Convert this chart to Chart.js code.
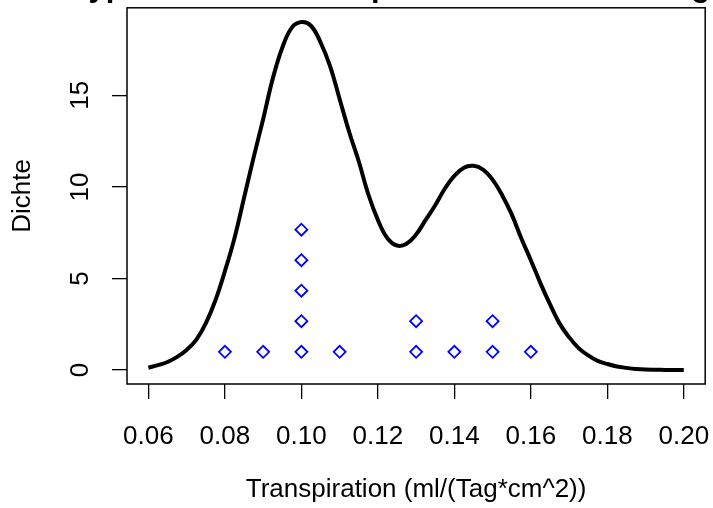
<!DOCTYPE html>
<html><head><meta charset="utf-8">
<script src="https://cdn.jsdelivr.net/npm/chart.js@4"></script>
<style>html,body{margin:0;padding:0;background:#fff}#wrap{width:713px;height:508px}</style>
</head><body><div id="wrap"><canvas id="c" width="713" height="508"></canvas></div>
<script>
const mainTitle = "Hypothetische Transpiration einer Messung";
const xTitle = "Transpiration (ml/(Tag*cm^2))";
const yTitle = "Dichte";

const densX = [0.060,0.0625,0.065,0.0675,0.070,0.0725,0.075,0.0775,0.080,0.0825,0.085,0.0875,0.090,0.0925,0.095,0.0975,0.100,0.1025,0.105,0.1075,0.110,0.1125,0.115,0.1175,0.120,0.1225,0.125,0.1275,0.130,0.1325,0.135,0.1375,0.140,0.1425,0.145,0.1475,0.150,0.1525,0.155,0.1575,0.160,0.1625,0.165,0.1675,0.170,0.1725,0.175,0.1775,0.180,0.1825,0.185,0.1875,0.190,0.195,0.200];
const densY = [0.13,0.27,0.44,0.72,1.1,1.65,2.55,3.8,5.4,7.2,9.4,11.6,13.7,15.9,17.6,18.7,19.0,18.8,17.9,16.6,14.8,13.0,11.4,9.6,8.2,7.2,6.8,6.9,7.4,8.2,9.0,9.9,10.6,11.05,11.15,10.95,10.4,9.55,8.5,7.2,6.0,4.75,3.6,2.55,1.8,1.2,0.8,0.5,0.33,0.2,0.12,0.06,0.03,0.01,0.0];

const obsX = [0.08,0.09,0.10,0.10,0.10,0.10,0.10,0.11,0.13,0.13,0.14,0.15,0.15,0.16];
const obsY = [1,1,1,2.667,4.333,6,7.667,1,1,2.667,1,1,2.667,1];

const xTicks = [0.06,0.08,0.10,0.12,0.14,0.16,0.18,0.20];
const xTickLabels = ["0.06","0.08","0.10","0.12","0.14","0.16","0.18","0.20"];
const yTicks = [0,5,10,15];
const yTickLabels = ["0","5","10","15"];

const FONT = "'Liberation Sans', Arial, Helvetica, sans-serif";

const boxPlugin = {
  id: 'box',
  afterDraw(chart) {
    const {ctx, chartArea: a} = chart;
    ctx.save();
    ctx.setTransform(1, 0, 0, 1, 0, 0);
    ctx.strokeStyle = '#000';
    ctx.lineWidth = 1.5;
    ctx.strokeRect(a.left, a.top, a.right - a.left, a.bottom - a.top);
    ctx.font = 'bold 31px ' + FONT;
    ctx.fillStyle = '#000';
    ctx.textAlign = 'left';
    ctx.textBaseline = 'alphabetic';
    const m = ctx.measureText(mainTitle);
    const desc = m.actualBoundingBoxDescent || 6.5;
    ctx.fillText(mainTitle, 66, 2.5 - desc);
    ctx.restore();
  }
};

new Chart(document.getElementById('c'), {
  type: 'scatter',
  data: {
    datasets: [
      {
        data: densX.map((x, i) => ({x, y: densY[i]})),
        showLine: true,
        borderColor: '#000',
        borderWidth: 4,
        pointRadius: 0,
        tension: 0.4,
        fill: false,
        order: 2
      },
      {
        data: obsX.map((x, i) => ({x, y: obsY[i]})),
        showLine: false,
        pointStyle: 'rectRot',
        pointRadius: 6,
        borderColor: '#0000FF',
        backgroundColor: 'rgba(0,0,0,0)',
        borderWidth: 1.8,
        order: 1
      }
    ]
  },
  options: {
    responsive: false,
    animation: false,
    devicePixelRatio: 1,
    layout: {padding: {top: 7, right: 6, left: 0, bottom: 0}},
    plugins: {legend: {display: false}, tooltip: {enabled: false}},
    scales: {
      x: {
        type: 'linear',
        position: 'bottom',
        min: 0.0544, max: 0.2056,
        afterBuildTicks: s => { s.ticks = xTicks.map(v => ({value: v})); },
        afterFit: s => { s.height = 124; s.paddingLeft = 0; s.paddingRight = 0; },
        grid: {drawOnChartArea: false, drawTicks: true, tickLength: 15, color: '#000', lineWidth: 1.3},
        border: {display: false},
        ticks: {
          autoSkip: false, maxRotation: 0, minRotation: 0, padding: 22,
          color: '#000', font: {family: FONT, size: 26},
          callback: (v) => { const i = xTicks.findIndex(t => Math.abs(t - v) < 1e-9); return i >= 0 ? xTickLabels[i] : ''; }
        },
        title: {display: true, text: xTitle, color: '#000', font: {family: FONT, size: 26}, padding: {top: 0, bottom: 3}}
      },
      y: {
        type: 'linear',
        position: 'left',
        min: -0.76, max: 19.78,
        afterBuildTicks: s => { s.ticks = yTicks.map(v => ({value: v})); },
        afterFit: s => { s.width = 127; s.paddingTop = 0; s.paddingBottom = 0; },
        grid: {drawOnChartArea: false, drawTicks: true, tickLength: 15, color: '#000', lineWidth: 1.3},
        border: {display: false},
        ticks: {
          autoSkip: false, minRotation: 90, maxRotation: 90, crossAlign: 'center', padding: 17,
          color: '#000', font: {family: FONT, size: 26},
          callback: (v) => { const i = yTicks.indexOf(v); return i >= 0 ? yTickLabels[i] : ''; }
        },
        title: {display: true, text: yTitle, color: '#000', font: {family: FONT, size: 26}, padding: {top: 7, bottom: 0}}
      }
    }
  },
  plugins: [boxPlugin]
});
</script>
</body></html>
